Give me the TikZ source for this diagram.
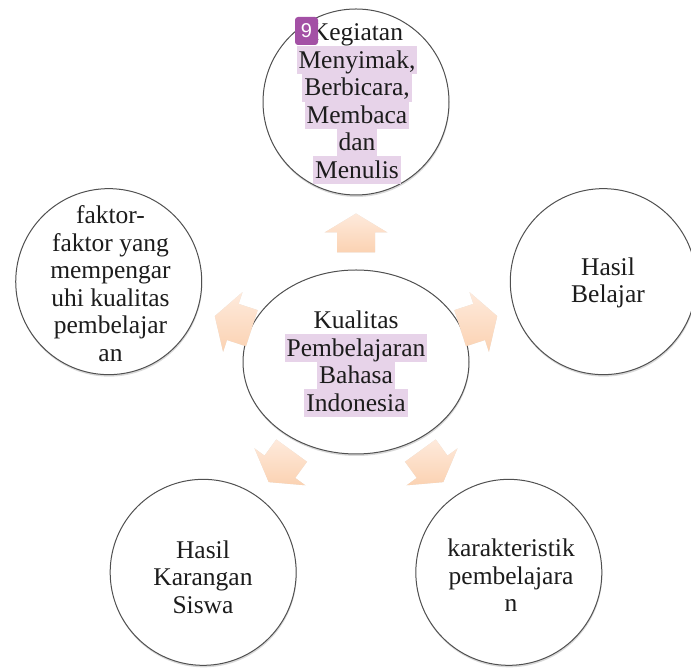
\documentclass[tikz,border=0pt]{standalone}
\usepackage{fontspec}
\setmainfont{Liberation Serif}
\newfontfamily\badgefont{Liberation Sans}
\usetikzlibrary{shapes.geometric,shadows,calc}
\definecolor{hl}{RGB}{231,211,233}
\definecolor{peachA}{RGB}{254,234,220}
\definecolor{peachB}{RGB}{251,210,178}
\definecolor{badge}{RGB}{163,80,165}
\definecolor{ink}{RGB}{28,28,28}
\definecolor{rim}{RGB}{80,80,80}
\setlength{\fboxsep}{0pt}
\newcommand\hlt[1]{\vphantom{Mg}\smash{\colorbox{hl}{\kern2pt\rule[-6pt]{0pt}{28pt}#1\kern2pt}}}
\begin{document}
\begin{tikzpicture}[x=1pt,y=1pt,
  bubble/.style={circle, draw=rim, line width=1pt, fill=white, minimum size=186pt, inner sep=0pt,
    drop shadow={opacity=0.3, shadow xshift=0.5pt, shadow yshift=-2pt}},
  hub/.style={ellipse, draw=rim, line width=1pt, fill=white, minimum width=226pt, minimum height=184pt, inner sep=0pt,
    drop shadow={opacity=0.3, shadow xshift=0.5pt, shadow yshift=-2pt}},
  label/.style={align=center, text=ink, font=\fontsize{25.5}{27.5}\selectfont, inner sep=0pt},
  spoke/.style={top color=peachA, bottom color=peachB},
  badgebox/.style={fill=badge, rounded corners=3pt, minimum width=23pt, minimum height=28pt, inner sep=0pt,
    text=white, font=\badgefont\fontsize{20}{20}\selectfont}
]
\useasboundingbox (0,0) rectangle (691,668);
\coordinate (c) at (356,306);
% circles
\node[hub] (hub) at (c) {};
\node[bubble] (n1) at ([shift={(90:260)}]c) {};
\node[bubble] (n2) at ([shift={(18:260)}]c) {};
\node[bubble] (n3) at ([shift={(-54:260)}]c) {};
\node[bubble] (n4) at ([shift={(-126:260)}]c) {};
\node[bubble] (n5) at ([shift={(162:260)}]c) {};
% arrows (vertical gradient, light at top)
\foreach \a in {90,18,-54,-126,162}{
  \path[fill=black, opacity=0.12, shift={(0.8pt,-1.2pt)}]
    ($(c)+(\a:109.5)+(\a+90:-19)$) -- ($(c)+(\a:129.5)+(\a+90:-19)$) -- ($(c)+(\a:129.5)+(\a+90:-31.5)$)
    -- ($(c)+(\a:148.5)$) -- ($(c)+(\a:129.5)+(\a+90:31.5)$) -- ($(c)+(\a:129.5)+(\a+90:19)$)
    -- ($(c)+(\a:109.5)+(\a+90:19)$) -- cycle;
  \shade[spoke]
    ($(c)+(\a:109.5)+(\a+90:-19)$) -- ($(c)+(\a:129.5)+(\a+90:-19)$) -- ($(c)+(\a:129.5)+(\a+90:-31.5)$)
    -- ($(c)+(\a:148.5)$) -- ($(c)+(\a:129.5)+(\a+90:31.5)$) -- ($(c)+(\a:129.5)+(\a+90:19)$)
    -- ($(c)+(\a:109.5)+(\a+90:19)$) -- cycle;
}
% texts
\node[label] (t0) at (356,304) {Kualitas\\\hlt{Pembelajaran}\\\hlt{Bahasa}\\\hlt{Indonesia}};
\node[label] (t1) at (357,564) {Kegiatan\\\hlt{Menyimak,}\\\hlt{Berbicara,}\\\hlt{Membaca}\\\hlt{dan}\\\hlt{Menulis}};
\node[label] (t2) at (608,385) {Hasil\\Belajar};
\node[label] (t3) at (511,92.5) {karakteristik\\pembelajara\\n};
\node[label] (t4) at (203,91) {Hasil\\Karangan\\Siswa};
\node[label] (t5) at (110.5,384.5) {faktor-\\faktor yang\\mempengar\\uhi kualitas\\pembelajar\\an};
\node[badgebox] (badge) at (306.5,637) {9};
\end{tikzpicture}
\end{document}
